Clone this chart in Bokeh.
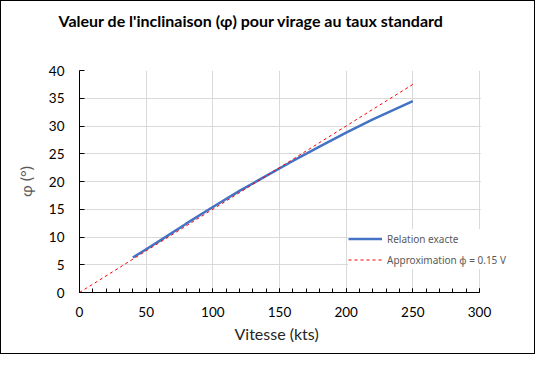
from bokeh.plotting import figure
from bokeh.models import (Range1d, SingleIntervalTicker, Legend, LegendItem, Title,
                          BoxAnnotation)
from bokeh.embed import file_html
from bokeh.resources import INLINE

# --- data ---
speed_exact = [40, 50, 60, 80, 100, 120, 140, 160, 180, 200, 220, 250]
bank_exact = [6.3, 7.8, 9.3, 12.4, 15.4, 18.3, 21.0, 23.7, 26.3, 28.8, 31.2, 34.5]
speed_approx = [0, 250]
bank_approx = [0, 37.5]

title_text = "Valeur de l'inclinaison (φ) pour virage au taux standard"
x_label = "Vitesse (kts)"
y_label = "φ (°)"
legend_exact = "Relation exacte"
legend_approx = "Approximation ϕ = 0.15 V"

x_min, x_max = 0, 300
y_min, y_max = 0, 40

FONT = "Lato"

# the frame is widened past x_max so that the legend can overhang the axis end
p = figure(width=535, height=354, output_backend="svg", toolbar_location=None,
           x_range=Range1d(x_min, x_max * 1.1), y_range=Range1d(y_min, y_max),
           min_border_left=78, min_border_right=17, min_border_top=69, min_border_bottom=63,
           styles={"border": "1px solid black"})
p.outline_line_color = None
p.background_fill_color = "white"
p.border_fill_color = "white"

# spacer (nearest the frame) then the real title above it
p.add_layout(Title(text=" ", text_font_size="1px", standoff=36), "above")
p.add_layout(Title(text=title_text, text_font=FONT, text_font_size="16px",
                   text_font_style="bold", text_color="black", align="left", offset=-21,
                   vertical_align="top", standoff=0), "above")

# axes
p.xaxis.ticker = SingleIntervalTicker(interval=50, num_minor_ticks=5)
p.yaxis.ticker = SingleIntervalTicker(interval=5, num_minor_ticks=0)
p.xaxis.bounds = (x_min, x_max)
for ax in (p.xaxis, p.yaxis):
    ax.axis_line_color = "black"
    ax.major_tick_line_color = "black"
    ax.major_tick_out = 0
    ax.minor_tick_out = 0
    ax.major_label_text_font = FONT
    ax.major_label_text_font_size = "13.5px"
    ax.major_label_text_color = "black"
    ax.axis_label_text_font = FONT
    ax.axis_label_text_font_size = "16px"
    ax.axis_label_text_font_style = "normal"
p.xaxis.major_tick_in = 4
p.xaxis.minor_tick_in = 4
p.xaxis.minor_tick_line_color = "black"
p.yaxis.major_tick_in = 5
p.yaxis.minor_tick_line_color = None
p.xaxis.major_label_standoff = 14
p.yaxis.major_label_standoff = 15
p.yaxis.axis_label = y_label
p.yaxis.axis_label_text_color = "#595959"
p.yaxis.axis_label_standoff = 11

# x axis title centred under the 0..300 span (frame is wider than the axis)
p.add_layout(Title(text=x_label, text_font=FONT, text_font_size="16px",
                   text_font_style="normal", text_color="#262626", align="left",
                   offset=155, vertical_align="top", standoff=8), "below")

p.xgrid.grid_line_color = "#d9d9d9"
p.ygrid.grid_line_color = "#d9d9d9"

# blank out the widened part of the frame beyond x_max
p.add_layout(BoxAnnotation(left=x_max + 1, fill_color="white", fill_alpha=1,
                           line_color=None, level="glyph"))

r_exact = p.line(speed_exact, bank_exact, line_color="#4472c4", line_width=2.5)
r_approx = p.line(speed_approx, bank_approx, line_color="#ff0000", line_width=1,
                  line_dash="3 3")

legend = Legend(items=[LegendItem(label=legend_exact, renderers=[r_exact]),
                       LegendItem(label=legend_approx, renderers=[r_approx])],
                location=(269, 23), padding=5, margin=0, spacing=2,
                label_height=19, glyph_height=19, glyph_width=34, label_standoff=5,
                label_width=124,
                label_text_font="Noto Sans", label_text_font_size="10px",
                label_text_color="#595959", border_line_color=None,
                background_fill_color="white", background_fill_alpha=1)
p.add_layout(legend, "center")

open("out.html", "w").write(file_html(p, INLINE))
